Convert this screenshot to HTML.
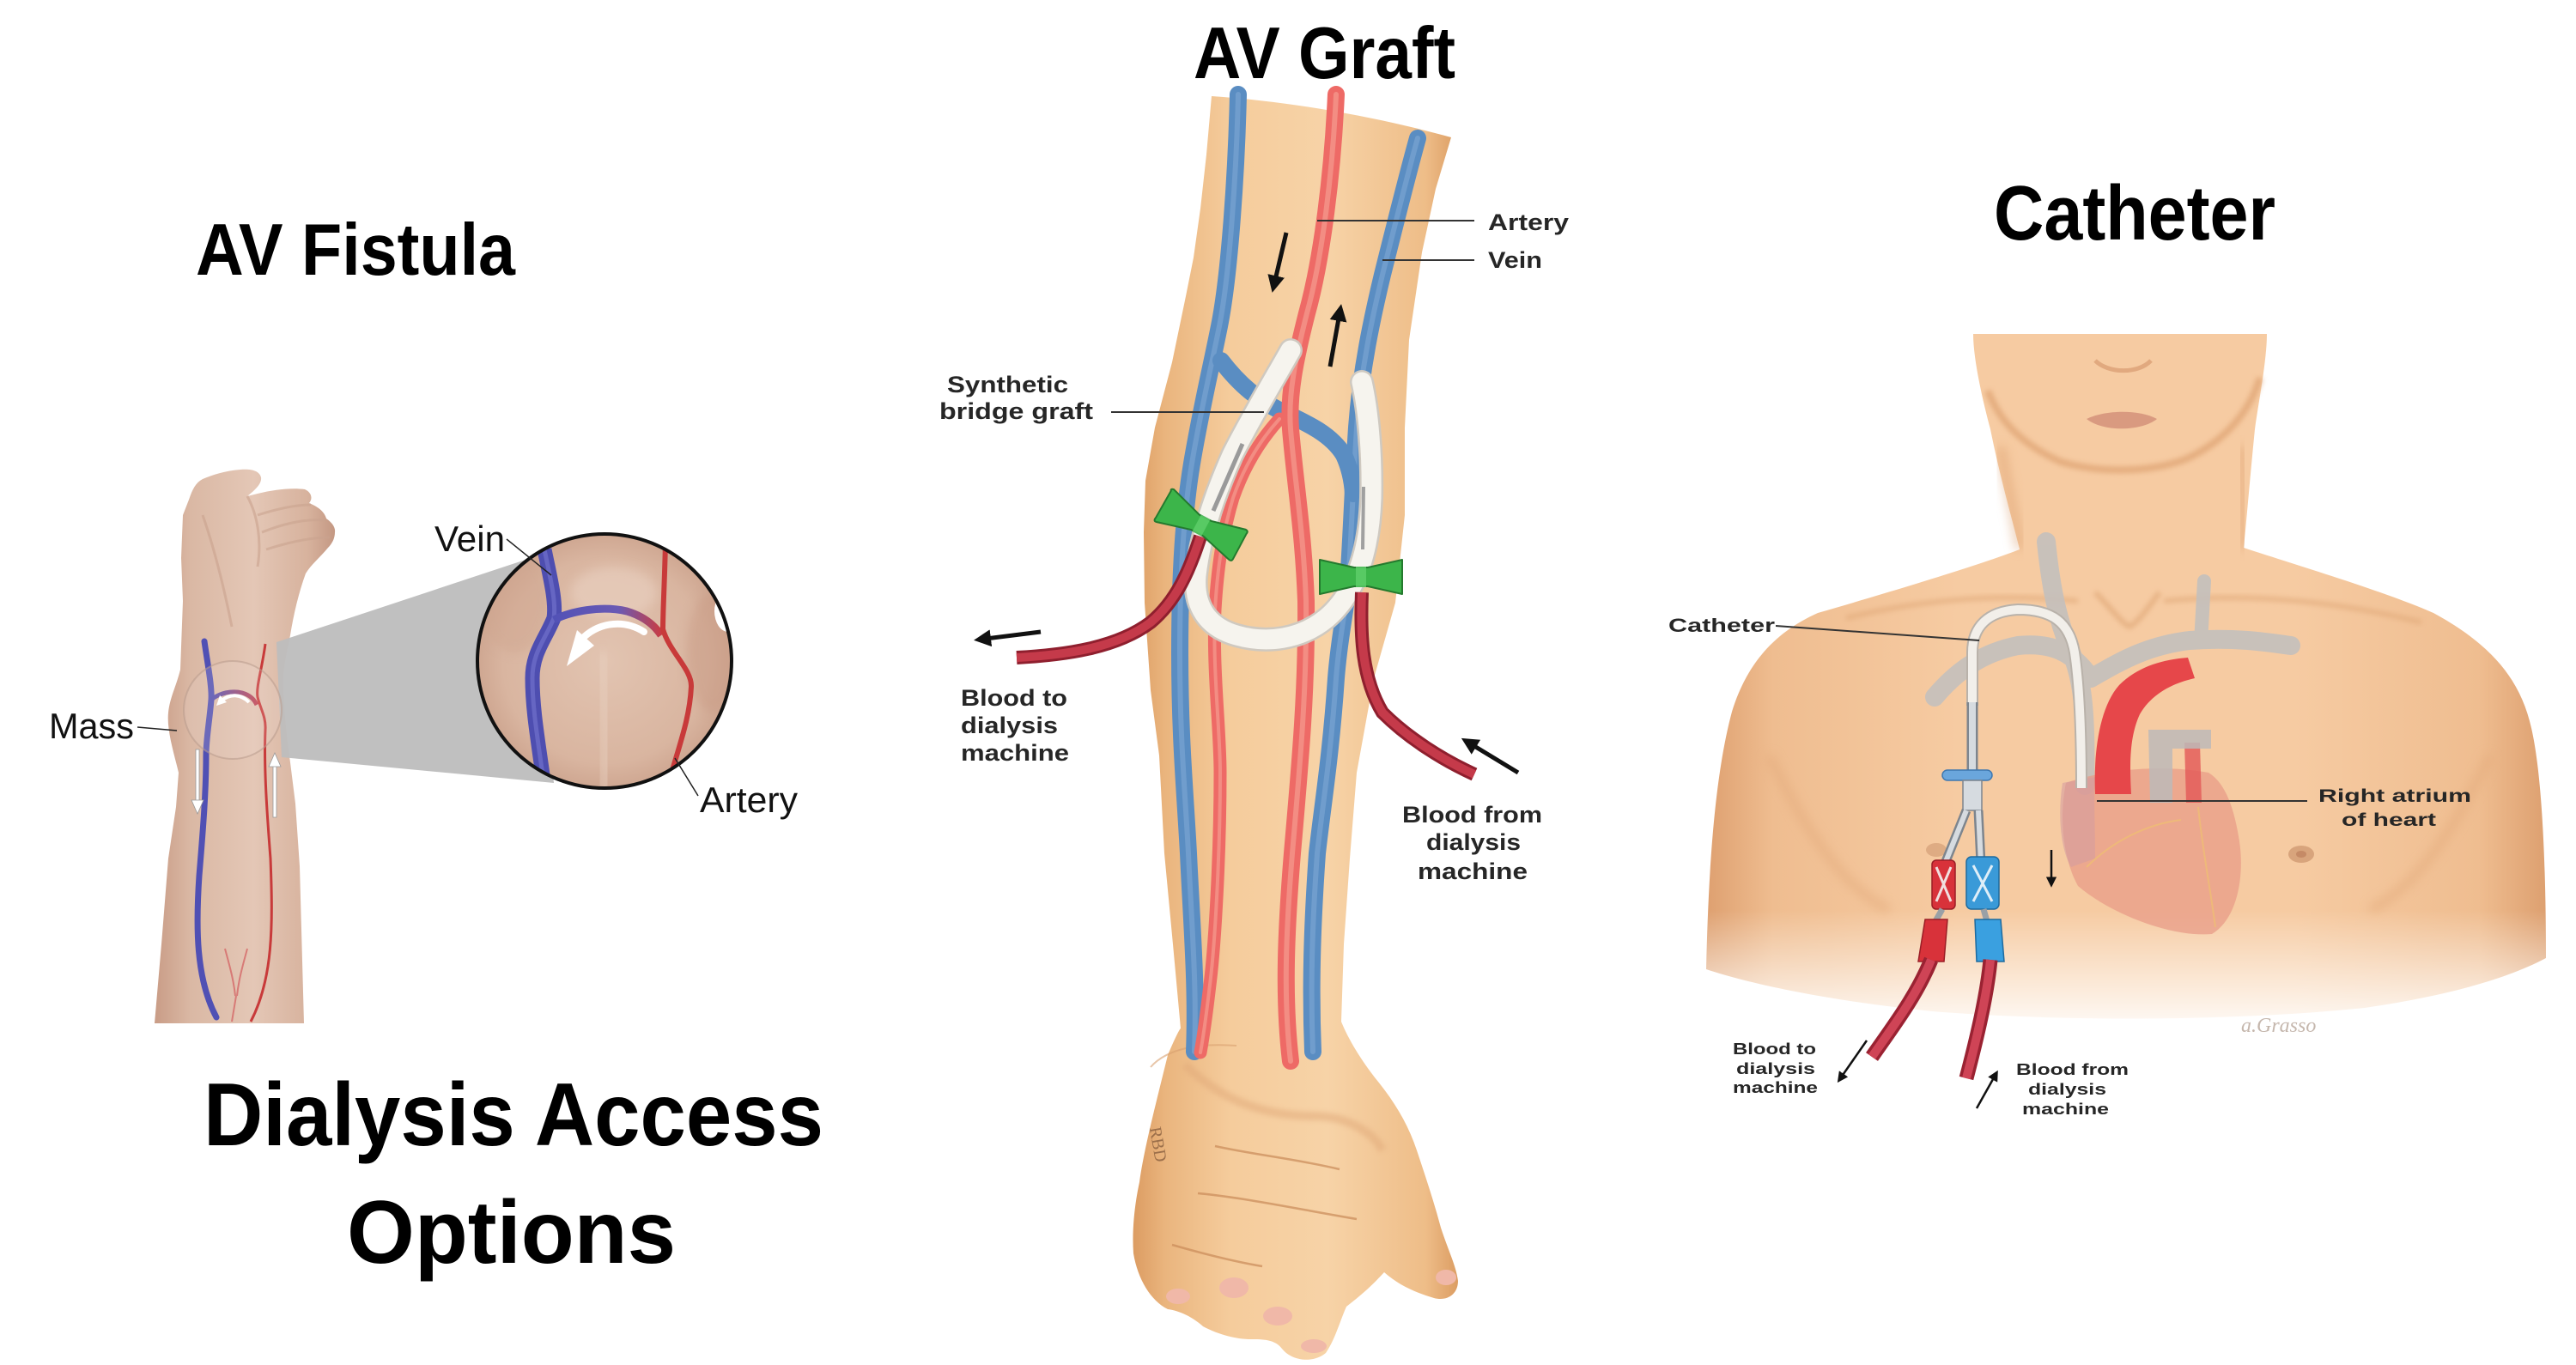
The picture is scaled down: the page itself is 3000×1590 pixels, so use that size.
<!DOCTYPE html>
<html><head><meta charset="utf-8"><style>
html,body{margin:0;padding:0;background:#fff;}
svg{display:block;}
</style></head><body>
<svg width="3000" height="1590" viewBox="0 0 3000 1590" xmlns="http://www.w3.org/2000/svg">
<defs>
 <linearGradient id="fistArm" x1="0" y1="0" x2="1" y2="0">
  <stop offset="0" stop-color="#c99c86"/><stop offset="0.2" stop-color="#dab8a4"/><stop offset="0.55" stop-color="#e4c7b6"/><stop offset="0.85" stop-color="#d7b29d"/><stop offset="1" stop-color="#c49883"/>
 </linearGradient>
 <radialGradient id="circG" cx="0.5" cy="0.5" r="0.55">
  <stop offset="0" stop-color="#e2c4b1"/><stop offset="0.7" stop-color="#d9b5a0"/><stop offset="1" stop-color="#c79c86"/>
 </radialGradient>
 <linearGradient id="graftArm" x1="0" y1="0" x2="1" y2="0">
  <stop offset="0" stop-color="#dc9c62"/><stop offset="0.1" stop-color="#eab57e"/><stop offset="0.3" stop-color="#f5cc9c"/><stop offset="0.6" stop-color="#f7d3a7"/><stop offset="0.9" stop-color="#eebd88"/><stop offset="1" stop-color="#dc9d63"/>
 </linearGradient>
 <linearGradient id="bodyG" x1="0" y1="0" x2="1" y2="0">
  <stop offset="0" stop-color="#dea070"/><stop offset="0.08" stop-color="#efbd90"/><stop offset="0.3" stop-color="#f6cba2"/><stop offset="0.7" stop-color="#f6cba2"/><stop offset="0.92" stop-color="#efbd90"/><stop offset="1" stop-color="#dda070"/>
 </linearGradient>
 <linearGradient id="fadeB" x1="0" y1="0" x2="0" y2="1">
  <stop offset="0" stop-color="#fff"/><stop offset="0.82" stop-color="#fff"/><stop offset="1" stop-color="#fff" stop-opacity="0"/>
 </linearGradient>
 <mask id="bodyMask" maskUnits="userSpaceOnUse" x="1950" y="380" width="1050" height="830">
  <rect x="1950" y="380" width="1050" height="830" fill="url(#fadeB)"/>
 </mask>
 <linearGradient id="veinBR" x1="0" y1="0" x2="1" y2="0">
  <stop offset="0" stop-color="#5252b6"/><stop offset="0.6" stop-color="#6a5ab4"/><stop offset="1" stop-color="#c83c44"/>
 </linearGradient>
 <linearGradient id="veinBR2" x1="0" y1="0" x2="1" y2="0">
  <stop offset="0" stop-color="#4e4eb4"/><stop offset="1" stop-color="#c04050"/>
 </linearGradient>
 <clipPath id="circClip"><circle cx="704" cy="770" r="148"/></clipPath>
 <filter id="blur6" x="-20%" y="-20%" width="140%" height="140%"><feGaussianBlur stdDeviation="6"/></filter>
 <filter id="blur3" x="-20%" y="-20%" width="140%" height="140%"><feGaussianBlur stdDeviation="3"/></filter>
 <marker id="ahB" viewBox="0 0 10 10" refX="7" refY="5" markerWidth="4" markerHeight="4" orient="auto"><path d="M0,0 L10,5 L0,10 z" fill="#111"/></marker>
 <marker id="ahS" viewBox="0 0 10 10" refX="7" refY="5" markerWidth="5" markerHeight="5" orient="auto"><path d="M0,0 L10,5 L0,10 z" fill="#111"/></marker>
</defs>

<rect x="0" y="0" width="3000" height="1590" fill="#fff"/>

<!-- ================= AV FISTULA ================= -->
<!-- arm -->
<path d="M180,1192 L188,1100 L196,1000 L205,940 L208,900 C202,875 194,850 196,830 C198,812 205,800 210,780 L213,700 L211,650 L213,600 L220,582 C224,570 228,562 236,558 C250,552 265,548 280,547 C292,546 302,548 304,556 C305,563 298,570 288,578 L300,575 C320,570 340,568 355,570 C362,573 365,580 360,586 C370,590 378,596 380,604 C386,608 391,614 390,620 C390,628 386,634 382,638 C372,650 362,658 356,668 C348,690 342,715 338,740 C333,765 328,785 330,805 C331,830 334,860 338,888 L344,936 L349,1009 L354,1192 Z" fill="url(#fistArm)"/>
<!-- hand detail -->
<path d="M236,600 C250,640 262,690 270,730" stroke="#c9a28d" stroke-width="3" fill="none" opacity="0.6"/>
<path d="M288,578 C300,600 305,630 300,660" stroke="#c9a28d" stroke-width="3" fill="none" opacity="0.6"/>
<path d="M300,600 C325,592 345,588 362,588" stroke="#caa48f" stroke-width="3" fill="none" opacity="0.6"/>
<path d="M305,620 C330,610 355,604 378,606" stroke="#caa48f" stroke-width="3" fill="none" opacity="0.6"/>
<path d="M310,640 C335,632 360,626 384,626" stroke="#caa48f" stroke-width="3" fill="none" opacity="0.6"/>
<!-- cone -->
<polygon points="322,748 618,650 645,912 328,882" fill="#bdbdbd" opacity="0.95"/>
<!-- veins in arm -->
<path d="M238,747 C242,775 247,800 246,815 C244,840 240,860 240,880 C240,920 237,960 232,1020 C228,1080 228,1140 252,1185" stroke="#5050b4" stroke-width="7" fill="none" stroke-linecap="round"/>
<path d="M246,815 C256,807 270,804 282,807 C292,810 296,815 299,821" stroke="url(#veinBR2)" stroke-width="5" fill="none"/>
<path d="M309,750 C305,780 298,800 300,812 C303,825 310,835 309,850 C307,900 312,960 315,1000 C318,1080 318,1140 292,1190" stroke="#c83a3a" stroke-width="3" fill="none"/>
<path d="M262,1105 C266,1120 272,1140 274,1160 M288,1105 C284,1120 278,1140 276,1160 M275,1160 L270,1190" stroke="#d46868" stroke-width="2" fill="none" opacity="0.8"/>
<!-- mass circle -->
<circle cx="271" cy="827" r="57" fill="#efe0d8" fill-opacity="0.18" stroke="#b89a8c" stroke-opacity="0.55" stroke-width="2"/>
<!-- small curved arrow -->
<path d="M290,818 C280,808 268,808 258,816" stroke="#fff" stroke-width="4" fill="none"/>
<polygon points="252,822 256,810 264,818" fill="#fff"/>
<!-- white arrows -->
<rect x="228" y="873" width="4" height="62" fill="#fff" stroke="#999" stroke-width="0.8"/>
<polygon points="223,932 237,932 230,948" fill="#fff" stroke="#999" stroke-width="0.8"/>
<rect x="318" y="890" width="4" height="62" fill="#fff" stroke="#999" stroke-width="0.8"/>
<polygon points="313,893 327,893 320,877" fill="#fff" stroke="#999" stroke-width="0.8"/>
<!-- big circle -->
<g clip-path="url(#circClip)">
 <rect x="550" y="615" width="310" height="310" fill="url(#circG)"/>
 <ellipse cx="600" cy="700" rx="40" ry="60" fill="#cfa690" opacity="0.5" filter="url(#blur6)"/>
 <ellipse cx="715" cy="690" rx="50" ry="30" fill="#ead2c2" opacity="0.6" filter="url(#blur6)"/>
 <ellipse cx="830" cy="760" rx="30" ry="70" fill="#c89a84" opacity="0.5" filter="url(#blur6)"/>
 <path d="M700,760 C705,820 708,870 705,925" stroke="#e8d0c0" stroke-width="18" fill="none" opacity="0.5" filter="url(#blur6)"/>
 <ellipse cx="848" cy="712" rx="16" ry="24" fill="#fff"/>
 <path d="M634,640 C640,670 648,700 645,720 C635,745 620,760 620,790 C620,830 628,870 635,925" stroke="#4e4eb0" stroke-width="17" fill="none"/>
 <path d="M634,640 C640,670 648,700 645,720 C635,745 620,760 620,790 C620,830 628,870 635,925" stroke="#7070cc" stroke-width="5" fill="none" opacity="0.7"/>
 <path d="M645,722 C665,712 700,705 730,712 C750,718 762,728 770,740" stroke="url(#veinBR)" stroke-width="9" fill="none"/>
 <path d="M775,630 C774,680 772,710 772,733 C780,760 806,780 805,800 C803,840 790,870 775,925" stroke="#c83a3a" stroke-width="6" fill="none"/>
 <path d="M750,736 C728,722 700,724 680,742" stroke="#fff" stroke-width="8" fill="none" stroke-linecap="round"/>
 <polygon points="660,776 672,734 692,752" fill="#fff"/>
</g>
<circle cx="704" cy="770" r="148" fill="none" stroke="#111" stroke-width="4"/>
<!-- labels -->
<line x1="590" y1="628" x2="642" y2="670" stroke="#222" stroke-width="1.5"/>
<line x1="813" y1="927" x2="786" y2="883" stroke="#222" stroke-width="1.5"/>
<line x1="160" y1="847" x2="206" y2="851" stroke="#222" stroke-width="1.5"/>
<text x="506" y="642" font-family="Liberation Sans, Arial, sans-serif" font-size="42" fill="#111" textLength="82" lengthAdjust="spacingAndGlyphs">Vein</text>
<text x="815" y="946" font-family="Liberation Sans, Arial, sans-serif" font-size="42" fill="#111" textLength="114" lengthAdjust="spacingAndGlyphs">Artery</text>
<text x="57" y="860" font-family="Liberation Sans, Arial, sans-serif" font-size="42" fill="#111" textLength="99" lengthAdjust="spacingAndGlyphs">Mass</text>

<!-- ================= AV GRAFT ================= -->
<path d="M1411,112 C1500,118 1600,135 1690,160 L1672,220 L1656,294 L1641,396 L1636,498 L1636,600 L1625,702 L1600,790 L1580,900 L1572,1000 L1565,1100 L1562,1190 C1570,1210 1585,1235 1605,1260 C1625,1285 1640,1310 1650,1340 C1660,1370 1670,1400 1678,1430 C1686,1455 1696,1475 1698,1492 C1698,1508 1685,1516 1670,1512 C1650,1506 1630,1498 1612,1482 C1600,1495 1590,1505 1568,1522 C1560,1540 1555,1560 1544,1576 C1530,1588 1505,1586 1493,1571 C1485,1560 1470,1560 1457,1560 C1440,1560 1420,1555 1401,1545 C1390,1535 1375,1527 1360,1525 C1340,1515 1325,1490 1320,1460 C1318,1430 1322,1400 1327,1377 C1332,1340 1345,1290 1360,1229 C1368,1210 1374,1198 1375,1198 L1366,1100 L1356,994 L1350,880 L1340,804 L1333,702 L1332,620 L1334,560 L1345,498 L1365,422 L1381,345 L1390,300 L1398,243 L1405,180 Z" fill="url(#graftArm)"/>
<!-- hand shading -->
<path d="M1380,1240 C1420,1280 1470,1300 1530,1300 C1570,1300 1600,1320 1610,1340" stroke="#e0a878" stroke-width="10" fill="none" opacity="0.5" filter="url(#blur3)"/>
<path d="M1415,1335 C1460,1345 1510,1350 1560,1362 M1395,1390 C1450,1395 1520,1410 1580,1420 M1365,1450 C1400,1460 1440,1470 1470,1475" stroke="#c98a58" stroke-width="2.5" fill="none" opacity="0.7"/>
<ellipse cx="1372" cy="1510" rx="14" ry="9" fill="#f0b8a8"/>
<ellipse cx="1437" cy="1500" rx="17" ry="12" fill="#f0b8a8"/>
<ellipse cx="1488" cy="1533" rx="17" ry="11" fill="#f0b8a8"/>
<ellipse cx="1530" cy="1568" rx="15" ry="8" fill="#f0b8a8"/>
<ellipse cx="1684" cy="1488" rx="12" ry="9" fill="#f0b8a8"/>
<path d="M1340,1243 C1360,1220 1400,1215 1440,1218" stroke="#d8a070" stroke-width="2" fill="none" opacity="0.6"/>
<text x="1342" y="1330" font-family="Liberation Serif, serif" font-size="20" fill="#8a6040" transform="rotate(80 1350 1320)" opacity="0.8">RBD</text>
<!-- veins -->
<g fill="none" stroke-linecap="round">
 <path d="M1442,110 C1440,200 1432,320 1420,380 C1410,430 1398,480 1388,540 C1378,600 1374,680 1374,760 C1374,860 1380,920 1384,994 C1388,1080 1394,1150 1391,1225" stroke="#5a8dc2" stroke-width="20"/>
 <path d="M1442,110 C1440,200 1432,320 1420,380 C1410,430 1398,480 1388,540 C1378,600 1374,680 1374,760 C1374,860 1380,920 1384,994 C1388,1080 1394,1150 1391,1225" stroke="#7ea9d4" stroke-width="6" opacity="0.6"/>
 <path d="M1651,161 C1640,200 1625,260 1610,320 C1598,370 1585,430 1580,498 C1576,560 1574,620 1570,680 C1566,720 1560,740 1556,790 C1550,880 1540,940 1534,994 C1528,1080 1526,1150 1529,1225" stroke="#5a8dc2" stroke-width="20"/>
 <path d="M1651,161 C1640,200 1625,260 1610,320 C1598,370 1585,430 1580,498 C1576,560 1574,620 1570,680 C1566,720 1560,740 1556,790 C1550,880 1540,940 1534,994 C1528,1080 1526,1150 1529,1225" stroke="#7ea9d4" stroke-width="6" opacity="0.6"/>
 <path d="M1422,420 C1445,450 1465,465 1490,478 C1520,492 1550,505 1565,530 C1572,545 1575,560 1576,575" stroke="#5a8dc2" stroke-width="20"/>
 <!-- arteries -->
 <path d="M1556,110 C1552,200 1540,300 1522,365 C1508,420 1500,460 1503,500 C1508,560 1518,620 1521,700 C1522,800 1515,880 1505,994 C1498,1080 1494,1160 1503,1236" stroke="#ee6a66" stroke-width="20"/>
 <path d="M1556,110 C1552,200 1540,300 1522,365 C1508,420 1500,460 1503,500 C1508,560 1518,620 1521,700 C1522,800 1515,880 1505,994 C1498,1080 1494,1160 1503,1236" stroke="#f59c90" stroke-width="6" opacity="0.7"/>
 <path d="M1490,488 C1470,510 1450,540 1436,580 C1424,620 1418,660 1415,710 C1412,780 1421,850 1421,900 C1421,994 1415,1100 1409,1147 C1404,1190 1400,1215 1398,1226" stroke="#ee6a66" stroke-width="15"/>
 <path d="M1490,488 C1470,510 1450,540 1436,580 C1424,620 1418,660 1415,710 C1412,780 1421,850 1421,900 C1421,994 1415,1100 1409,1147 C1404,1190 1400,1215 1398,1226" stroke="#f59c90" stroke-width="4" opacity="0.7"/>
</g>
<!-- graft -->
<path d="M1503,408 C1485,440 1455,490 1435,530 C1415,575 1398,625 1393,670 C1390,705 1405,730 1440,740 C1475,750 1515,745 1545,720 C1580,690 1595,640 1597,580 C1598,530 1594,480 1586,445" stroke="#cfc9c0" stroke-width="28" fill="none" stroke-linecap="round"/>
<path d="M1503,408 C1485,440 1455,490 1435,530 C1415,575 1398,625 1393,670 C1390,705 1405,730 1440,740 C1475,750 1515,745 1545,720 C1580,690 1595,640 1597,580 C1598,530 1594,480 1586,445" stroke="#f6f4ee" stroke-width="23" fill="none" stroke-linecap="round"/>
<!-- needles -->
<line x1="1413" y1="595" x2="1447" y2="517" stroke="#9a9a9a" stroke-width="5"/>
<line x1="1587" y1="640" x2="1588" y2="567" stroke="#a0a0a0" stroke-width="4"/>
<!-- tubes -->
<path d="M1398,625 C1385,665 1370,700 1340,725 C1300,755 1240,763 1184,766" stroke="#8f1f2e" stroke-width="16" fill="none"/>
<path d="M1398,625 C1385,665 1370,700 1340,725 C1300,755 1240,763 1184,766" stroke="#c53a4a" stroke-width="10" fill="none"/>
<path d="M1586,690 C1584,740 1586,790 1610,830 C1640,860 1680,885 1717,902" stroke="#8f1f2e" stroke-width="16" fill="none"/>
<path d="M1586,690 C1584,740 1586,790 1610,830 C1640,860 1680,885 1717,902" stroke="#c53a4a" stroke-width="10" fill="none"/>
<!-- clips -->
<g transform="translate(1399,612) rotate(28)">
 <path d="M-50,-19 Q-52,-21 -48,-22 L-8,-10 L8,-10 L48,-20 Q52,-20 51,-16 L51,17 Q51,21 47,20 L8,10 L-8,10 L-48,21 Q-52,22 -51,17 Z" fill="#3cb54a" stroke="#247a2e" stroke-width="2"/>
 <rect x="-6" y="-11" width="12" height="22" fill="#5fcf6a" opacity="0.8"/>
</g>
<g transform="translate(1585,672)">
 <path d="M-48,-20 L-8,-11 L8,-11 L48,-20 L48,20 L8,11 L-8,11 L-48,20 Z" fill="#3cb54a" stroke="#247a2e" stroke-width="2" stroke-linejoin="round"/>
 <rect x="-6" y="-12" width="12" height="24" fill="#5fcf6a" opacity="0.8"/>
</g>
<!-- arrows -->
<line x1="1212" y1="736" x2="1140" y2="745" stroke="#111" stroke-width="5" marker-end="url(#ahB)"/>
<line x1="1498" y1="271" x2="1483" y2="335" stroke="#111" stroke-width="5" marker-end="url(#ahB)"/>
<line x1="1549" y1="427" x2="1561" y2="360" stroke="#111" stroke-width="5" marker-end="url(#ahB)"/>
<line x1="1768" y1="900" x2="1707" y2="863" stroke="#111" stroke-width="5" marker-end="url(#ahB)"/>
<!-- leaders -->
<line x1="1534" y1="257" x2="1717" y2="257" stroke="#333" stroke-width="2"/>
<line x1="1610" y1="303" x2="1717" y2="303" stroke="#333" stroke-width="2"/>
<line x1="1294" y1="480" x2="1472" y2="480" stroke="#333" stroke-width="2"/>
<g font-family="Liberation Sans, Arial, sans-serif" font-weight="bold" font-size="27" fill="#262626">
 <text x="1733" y="268" textLength="94" lengthAdjust="spacingAndGlyphs">Artery</text>
 <text x="1733" y="312" textLength="63" lengthAdjust="spacingAndGlyphs">Vein</text>
 <text x="1103" y="457" textLength="141" lengthAdjust="spacingAndGlyphs">Synthetic</text>
 <text x="1094" y="488" textLength="179" lengthAdjust="spacingAndGlyphs">bridge graft</text>
 <text x="1119" y="822" textLength="124" lengthAdjust="spacingAndGlyphs">Blood to</text>
 <text x="1119" y="854" textLength="113" lengthAdjust="spacingAndGlyphs">dialysis</text>
 <text x="1119" y="886" textLength="126" lengthAdjust="spacingAndGlyphs">machine</text>
 <text x="1633" y="958" textLength="163" lengthAdjust="spacingAndGlyphs">Blood from</text>
 <text x="1661" y="990" textLength="110" lengthAdjust="spacingAndGlyphs">dialysis</text>
 <text x="1651" y="1024" textLength="128" lengthAdjust="spacingAndGlyphs">machine</text>
</g>

<!-- ================= CATHETER ================= -->
<g mask="url(#bodyMask)">
 <path d="M2298,389 L2640,389 C2640,420 2630,470 2626,500 C2620,560 2616,610 2613,638 C2680,660 2780,690 2834,714 C2900,750 2935,790 2948,848 C2960,900 2965,1000 2965,1116 C2920,1140 2850,1160 2754,1174 C2600,1190 2400,1190 2250,1178 C2150,1168 2050,1150 1987,1129 C1990,1000 1998,900 2017,829 C2035,770 2070,735 2117,714 C2200,690 2300,660 2352,640 C2345,610 2330,560 2318,500 C2310,470 2298,420 2298,389 Z" fill="url(#bodyG)"/>
 <!-- jaw shadow -->
 <path d="M2315,455 C2330,495 2360,520 2400,538 C2440,550 2500,552 2545,535 C2590,515 2620,480 2632,440" stroke="#d99a68" stroke-width="8" fill="none" opacity="0.6" filter="url(#blur3)"/>
 <path d="M2330,520 C2340,580 2350,620 2352,640" stroke="#d99a68" stroke-width="10" fill="none" opacity="0.5" filter="url(#blur6)"/>
 <path d="M2610,520 C2612,580 2613,620 2613,640" stroke="#d99a68" stroke-width="10" fill="none" opacity="0.5" filter="url(#blur6)"/>
 <path d="M2150,720 C2230,700 2320,690 2420,700 M2520,700 C2620,690 2720,700 2820,725" stroke="#e0a878" stroke-width="6" fill="none" opacity="0.6" filter="url(#blur3)"/>
 <path d="M2440,690 C2460,710 2470,725 2480,730 C2490,725 2500,710 2515,690" stroke="#e0a878" stroke-width="6" fill="none" opacity="0.7" filter="url(#blur3)"/>
 <path d="M2060,880 C2100,960 2140,1030 2200,1060 M2900,880 C2860,960 2820,1030 2760,1060" stroke="#e3aa7c" stroke-width="10" fill="none" opacity="0.6" filter="url(#blur6)"/>
 <!-- lips, nose -->
 <path d="M2430,488 C2450,478 2490,476 2512,488 C2495,502 2450,504 2430,488 Z" fill="#d99a80"/>
 <path d="M2440,420 C2455,435 2490,436 2505,420" stroke="#d99a70" stroke-width="5" fill="none" opacity="0.7"/>
 <!-- nipple -->
 <ellipse cx="2680" cy="995" rx="15" ry="10" fill="#d8a47c"/>
 <ellipse cx="2680" cy="995" rx="6" ry="4" fill="#c58a66"/>
 <ellipse cx="2255" cy="990" rx="12" ry="8" fill="#d8a47c" opacity="0.8"/>
</g>
<!-- grey vessels -->
<g fill="none" stroke="#c4c0bd" stroke-linecap="round" opacity="0.9">
 <path d="M2383,631 C2388,680 2395,720 2412,760 C2425,790 2430,830 2428,915" stroke-width="22"/>
 <path d="M2567,677 L2563,748" stroke-width="16"/>
 <path d="M2253,812 C2280,780 2310,760 2350,752 C2390,748 2415,760 2435,790" stroke-width="22"/>
 <path d="M2435,790 C2470,770 2500,752 2550,746 C2600,742 2640,748 2668,752" stroke-width="22"/>
</g>
<!-- heart -->
<path d="M2406,912 C2398,950 2402,1000 2420,1032 C2460,1066 2530,1092 2576,1088 C2606,1070 2614,1020 2608,980 C2602,942 2592,912 2572,900 C2520,890 2450,896 2406,912 Z" fill="#e89a86" opacity="0.72"/>
<path d="M2402,912 C2396,950 2400,990 2412,1010 L2440,1000 C2440,960 2438,925 2440,905 Z" fill="#d49aa0" opacity="0.55"/>
<path d="M2440,925 C2438,880 2444,825 2468,798 C2490,776 2520,768 2548,766 L2556,790 C2530,796 2506,808 2492,832 C2480,858 2480,890 2482,925 Z" fill="#e6474a"/>
<path d="M2544,865 L2562,865 L2564,935 L2546,935 Z" fill="#e35858" opacity="0.8"/>
<path d="M2502,850 L2575,850 L2575,872 L2530,872 L2530,935 L2504,935 Z" fill="#bdbab8" opacity="0.85"/>
<path d="M2430,1010 C2460,980 2500,960 2540,955 M2560,940 C2565,990 2575,1040 2580,1080" stroke="#f0c070" stroke-width="2" fill="none" opacity="0.7"/>
<!-- catheter tube -->
<path d="M2297,822 L2297,760 C2297,730 2315,712 2350,710 C2390,710 2410,725 2416,760 C2422,800 2424,860 2424,918" stroke="#b9b2aa" stroke-width="14" fill="none"/>
<path d="M2297,822 L2297,760 C2297,730 2315,712 2350,710 C2390,710 2410,725 2416,760 C2422,800 2424,860 2424,918" stroke="#f2efea" stroke-width="10" fill="none"/>
<line x1="2297" y1="818" x2="2297" y2="902" stroke="#7d858e" stroke-width="13"/>
<line x1="2297" y1="818" x2="2297" y2="902" stroke="#d6dbe0" stroke-width="8"/>
<rect x="2262" y="897" width="58" height="12" rx="6" fill="#6aa6dc" stroke="#3f78b0" stroke-width="1.5"/>
<path d="M2286,909 L2308,909 L2308,944 L2286,944 Z" fill="#d6dbe0" stroke="#7d858e" stroke-width="1.5"/>
<line x1="2290" y1="944" x2="2265" y2="1006" stroke="#7d858e" stroke-width="11"/>
<line x1="2290" y1="944" x2="2265" y2="1006" stroke="#d6dbe0" stroke-width="6"/>
<line x1="2304" y1="944" x2="2307" y2="1006" stroke="#7d858e" stroke-width="11"/>
<line x1="2304" y1="944" x2="2307" y2="1006" stroke="#d6dbe0" stroke-width="6"/>
<rect x="2250" y="1002" width="27" height="57" rx="5" fill="#d8323a" stroke="#9a1e26" stroke-width="1.5"/>
<path d="M2255,1010 L2272,1050 M2272,1010 L2255,1050" stroke="#f0e0e0" stroke-width="3"/>
<rect x="2290" y="998" width="38" height="61" rx="6" fill="#3a9ad8" stroke="#1e6a9e" stroke-width="1.5"/>
<path d="M2298,1008 L2320,1050 M2320,1008 L2298,1050" stroke="#dfeef8" stroke-width="3"/>
<line x1="2262" y1="1059" x2="2254" y2="1073" stroke="#9aa0a6" stroke-width="7"/>
<line x1="2310" y1="1059" x2="2314" y2="1073" stroke="#9aa0a6" stroke-width="7"/>
<path d="M2242,1071 L2268,1071 L2264,1120 L2234,1120 Z" fill="#d8323a" stroke="#9a1e26" stroke-width="1.5"/>
<path d="M2300,1071 L2330,1071 L2334,1120 L2302,1120 Z" fill="#3aa0e0" stroke="#1e6a9e" stroke-width="1.5"/>
<!-- red tubes -->
<path d="M2249,1118 C2232,1160 2205,1195 2180,1231" stroke="#9a2232" stroke-width="17" fill="none"/>
<path d="M2249,1118 C2232,1160 2205,1195 2180,1231" stroke="#cf4456" stroke-width="10" fill="none"/>
<path d="M2318,1118 C2314,1160 2302,1210 2290,1256" stroke="#9a2232" stroke-width="17" fill="none"/>
<path d="M2318,1118 C2314,1160 2302,1210 2290,1256" stroke="#cf4456" stroke-width="10" fill="none"/>
<!-- signature -->
<text x="2610" y="1202" font-family="Liberation Serif, serif" font-style="italic" font-size="24" fill="#a08878" opacity="0.6">a.Grasso</text>
<!-- arrows -->
<line x1="2389" y1="990" x2="2389" y2="1030" stroke="#111" stroke-width="2.5" marker-end="url(#ahS)"/>
<line x1="2174" y1="1212" x2="2142" y2="1258" stroke="#111" stroke-width="2.5" marker-end="url(#ahS)"/>
<line x1="2302" y1="1291" x2="2325" y2="1250" stroke="#111" stroke-width="2.5" marker-end="url(#ahS)"/>
<!-- leaders -->
<line x1="2068" y1="729" x2="2305" y2="746" stroke="#333" stroke-width="2"/>
<line x1="2442" y1="933" x2="2687" y2="933" stroke="#333" stroke-width="2"/>
<g font-family="Liberation Sans, Arial, sans-serif" font-weight="bold" fill="#262626">
 <text x="1943" y="736" font-size="22" textLength="124" lengthAdjust="spacingAndGlyphs">Catheter</text>
 <text x="2700" y="934" font-size="21" textLength="178" lengthAdjust="spacingAndGlyphs">Right atrium</text>
 <text x="2727" y="962" font-size="21" textLength="110" lengthAdjust="spacingAndGlyphs">of heart</text>
 <text x="2018" y="1228" font-size="18" textLength="97" lengthAdjust="spacingAndGlyphs">Blood to</text>
 <text x="2022" y="1251" font-size="18" textLength="92" lengthAdjust="spacingAndGlyphs">dialysis</text>
 <text x="2018" y="1273" font-size="18" textLength="99" lengthAdjust="spacingAndGlyphs">machine</text>
 <text x="2348" y="1252" font-size="18" textLength="131" lengthAdjust="spacingAndGlyphs">Blood from</text>
 <text x="2362" y="1275" font-size="18" textLength="91" lengthAdjust="spacingAndGlyphs">dialysis</text>
 <text x="2355" y="1298" font-size="18" textLength="101" lengthAdjust="spacingAndGlyphs">machine</text>
</g>

<!-- ================= TITLES ================= -->
<g font-family="Liberation Sans, Arial, sans-serif" font-weight="bold" fill="#000">
 <text x="228" y="320" font-size="85" textLength="372" lengthAdjust="spacingAndGlyphs">AV Fistula</text>
 <text x="1390" y="91" font-size="85" textLength="305" lengthAdjust="spacingAndGlyphs">AV Graft</text>
 <text x="2322" y="279" font-size="90" textLength="328" lengthAdjust="spacingAndGlyphs">Catheter</text>
 <text x="237" y="1334" font-size="104" textLength="722" lengthAdjust="spacingAndGlyphs">Dialysis Access</text>
 <text x="404" y="1471" font-size="104" textLength="383" lengthAdjust="spacingAndGlyphs">Options</text>
</g>
</svg>
</body></html>
